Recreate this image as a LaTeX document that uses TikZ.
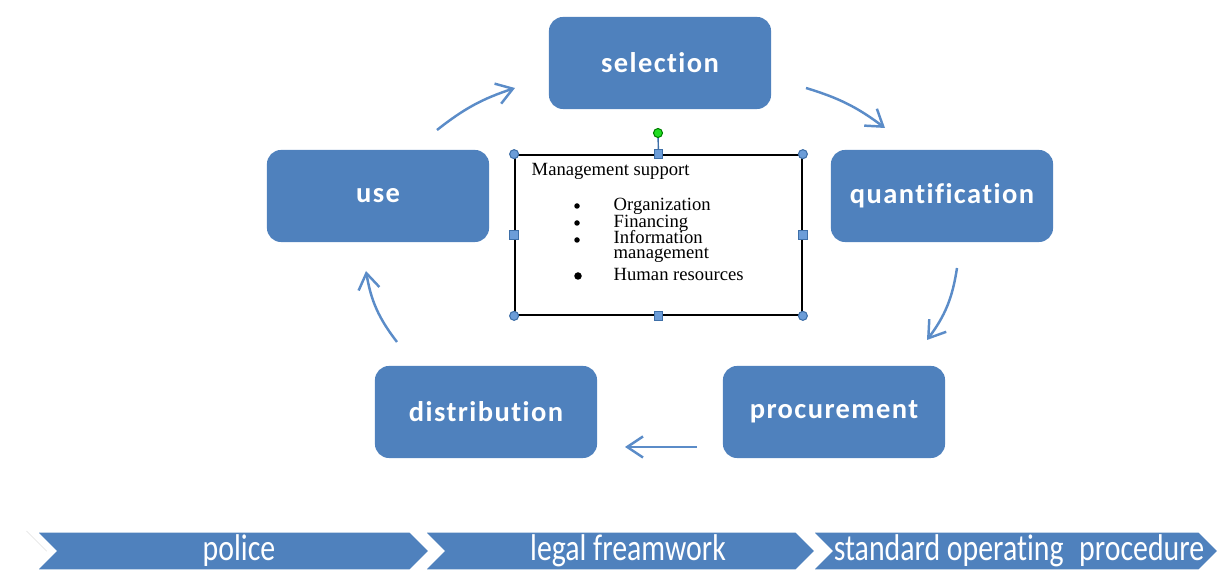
\documentclass[tikz,border=0pt]{standalone}
\usepackage{fontspec}
\setmainfont{Liberation Serif}
\newfontfamily\calib[Ligatures=NoCommon]{Carlito}
\newfontfamily\calibsp[Ligatures=NoCommon,LetterSpace=5]{Carlito}
\usetikzlibrary{arrows.meta}
\definecolor{boxblue}{HTML}{4F81BD}
\definecolor{arrblue}{HTML}{5B8CC8}
\definecolor{handfill}{HTML}{6C9DD8}
\definecolor{handline}{HTML}{3E6FA8}
\definecolor{grn}{HTML}{22DD22}
\tikzset{
  stagebox/.style={rectangle, rounded corners=4pt, fill=boxblue, minimum width=2.22cm, minimum height=0.92cm, text=white, font=\calibsp\bfseries\fontsize{8.1}{10}\selectfont},
  cyc/.style={draw=arrblue, line width=0.7pt, -{Straight Barb[length=4.5pt,width=6pt,line width=0.7pt]}},
  chev/.style={fill=boxblue, draw=white, line width=2pt, line join=miter},
  chevtext/.style={text=white, font=\calib\fontsize{10.6}{12}\selectfont},
  handc/.style={circle, fill=handfill, draw=handline, line width=0.3pt, inner sep=0pt, minimum size=0.09cm},
  hands/.style={rectangle, fill=handfill, draw=handline, line width=0.3pt, inner sep=0pt, minimum size=0.085cm},
  mtext/.style={anchor=base west, inner sep=0pt, font=\fontsize{5.3}{6}\selectfont},
  bul/.style={circle, fill=black, inner sep=0pt, minimum size=#1}
}
\begin{document}
\begin{tikzpicture}[x=0.01cm, y=-0.01cm]
\useasboundingbox (0,0) rectangle (1226,579);
% stage boxes
\node[stagebox] (sel) at (660,63) {selection};
\node[stagebox] (qua) at (942,196) {quantification};
\node[stagebox] (use) at (378,196) {use};
\node[stagebox] (dis) at (486,412) {distribution};
\node[stagebox] (pro) at (834,412) {procurement};
% connector ends
\coordinate (a1s) at (437,130); \coordinate (a1e) at (515,88);
\coordinate (a2s) at (806,88);  \coordinate (a2e) at (885,128);
\coordinate (a3s) at (957,268); \coordinate (a3e) at (927,340);
\coordinate (a4s) at (697,447); \coordinate (a4e) at (625,447);
\coordinate (a5s) at (397,342); \coordinate (a5e) at (366,271);
\draw[cyc] (a1s) to[bend left=10] (a1e);
\draw[cyc] (a2s) to[bend left=10] (a2e);
\draw[cyc] (a3s) to[bend left=14] (a3e);
\draw[cyc] (a4s) -- (a4e);
\draw[cyc] (a5s) to[bend left=14] (a5e);
% management box
\node[draw=black, line width=0.45pt, minimum width=2.87cm, minimum height=1.6cm, inner sep=0pt] (mgmt) at (658.5,235) {};
\draw[line width=0.4pt, handline] (mgmt.north) -- (658,134);
\node[circle, fill=grn, draw=green!50!black, line width=0.3pt, inner sep=0pt, minimum size=0.09cm] (rot) at (658,133) {};
\node[handc] (h1) at (mgmt.north west) {};
\node[handc] (h2) at (mgmt.north east) {};
\node[handc] (h3) at (mgmt.south west) {};
\node[handc] (h4) at (mgmt.south east) {};
\node[hands] (h5) at (mgmt.north) {};
\node[hands] (h6) at (mgmt.south) {};
\node[hands] (h7) at (mgmt.west) {};
\node[hands] (h8) at (mgmt.east) {};
\node[mtext] (t0) at (531,176) {Management support};
\node[mtext] (t1) at (613,211) {Organization};
\node[mtext] (t2) at (613,228) {Financing};
\node[mtext] (t3) at (613,244) {Information};
\node[mtext] (t4) at (613,259) {management};
\node[mtext] (t5) at (613,281) {Human resources};
\node[bul=0.055cm] (b1) at (577,206) {};
\node[bul=0.055cm] (b2) at (577,223) {};
\node[bul=0.055cm] (b3) at (577,240) {};
\node[bul=0.075cm] (b4) at (578,276) {};
% chevrons
\fill[black!12] (26,531) -- (409,531) -- (431,553) -- (409,575) -- (26,575) -- (48,553) -- cycle;
\draw[chev] (30,529) -- (411,529) -- (433,551) -- (411,573) -- (30,573) -- (52,551) -- cycle;
\draw[chev] (418,529) -- (797,529) -- (819,551) -- (797,573) -- (418,573) -- (440,551) -- cycle;
\draw[chev] (806,529) -- (1200,529) -- (1222,551) -- (1200,573) -- (806,573) -- (828,551) -- cycle;
\node[chevtext] (c1) at (239,551) {\scalebox{0.8}[1]{police}};
\node[chevtext] (c2) at (628,551) {\scalebox{0.8}[1]{legal freamwork}};
\node[chevtext] (c3) at (1019,551) {\scalebox{0.8}[1]{standard operating\hspace{0.3em} procedure}};
\end{tikzpicture}
\end{document}
